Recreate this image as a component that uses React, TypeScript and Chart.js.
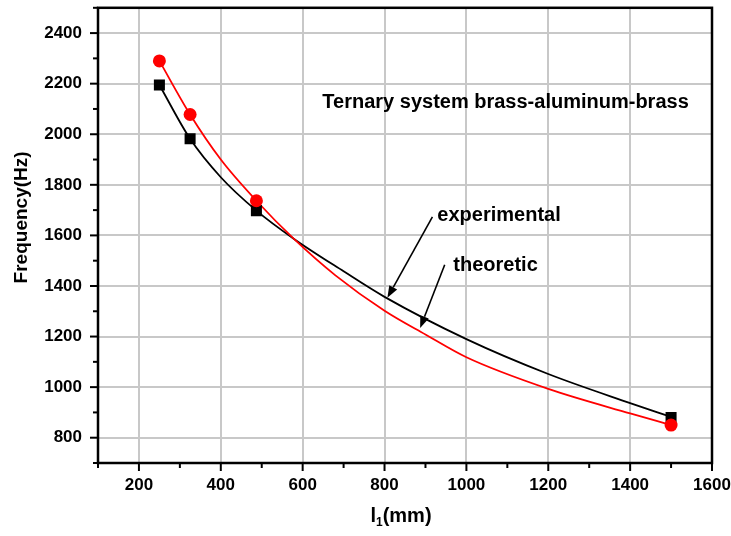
import React, { useEffect, useRef } from 'react';
import { Chart, registerables } from 'chart.js';

Chart.register(...registerables);

// measured points
const expX = [250, 325, 487, 1500];
const expY = [2195, 1982, 1698, 880];
const theoX = [250, 325, 487, 1500];
const theoY = [2290, 2078, 1737, 850];

// fitted curves
const expCurveX = [250, 325, 400, 487, 578, 700, 800, 1000, 1200, 1400, 1500];
const expCurveY = [2195, 1982, 1830, 1698, 1587, 1458, 1357, 1190, 1052, 937, 882];
const theoCurveX = [250, 325, 400, 487, 578, 680, 800, 900, 1000, 1200, 1400, 1500];
const theoCurveY = [2290, 2078, 1900, 1737, 1587, 1442, 1302, 1208, 1118, 993, 896, 850];

// tick labels
const xTickLabels = [200, 400, 600, 800, 1000, 1200, 1400, 1600];
const yTickLabels = [800, 1000, 1200, 1400, 1600, 1800, 2000, 2200, 2400];

const titleText = 'Ternary system brass-aluminum-brass';
const expLabel = 'experimental';
const theoLabel = 'theoretic';
const yTitle = 'Frequency(Hz)';

const FONT = "'Liberation Sans', Arial, Helvetica, sans-serif";

const pts = (xs: number[], ys: number[]) => xs.map((x, i) => ({ x, y: ys[i] }));

function drawArrow(ctx: CanvasRenderingContext2D, x1: number, y1: number, x2: number, y2: number) {
  const ang = Math.atan2(y2 - y1, x2 - x1);
  const len = 12;
  const hw = 4.5;
  const bx = x2 - len * Math.cos(ang);
  const by = y2 - len * Math.sin(ang);
  ctx.beginPath();
  ctx.moveTo(x1, y1);
  ctx.lineTo(bx, by);
  ctx.stroke();
  ctx.beginPath();
  ctx.moveTo(x2, y2);
  ctx.lineTo(bx + hw * Math.sin(ang), by - hw * Math.cos(ang));
  ctx.lineTo(bx - hw * Math.sin(ang), by + hw * Math.cos(ang));
  ctx.closePath();
  ctx.fill();
}

const decorPlugin = {
  id: 'decor',
  afterDatasetsDraw(chart: any) {
    const { ctx, scales } = chart;
    const xs = scales.x;
    const ys = scales.y;
    const px = (v: number) => xs.getPixelForValue(v);
    const py = (v: number) => ys.getPixelForValue(v);
    ctx.save();
    ctx.fillStyle = '#000';
    ctx.strokeStyle = '#000';
    ctx.textAlign = 'left';
    ctx.textBaseline = 'alphabetic';
    ctx.font = `bold 20px ${FONT}`;
    ctx.fillText(titleText, px(648), py(2105));
    ctx.fillText(expLabel, px(929), py(1655));
    ctx.fillText(theoLabel, px(968), py(1460));
    ctx.lineWidth = 1.6;
    drawArrow(ctx, px(917), py(1673), px(807), py(1353));
    drawArrow(ctx, px(947), py(1484), px(887), py(1234));
    ctx.restore();
  },
  afterDraw(chart: any) {
    const { ctx, chartArea: a, scales } = chart;
    const xs = scales.x;
    const ys = scales.y;
    ctx.save();
    ctx.strokeStyle = '#000';
    ctx.lineWidth = 2;
    xs.ticks.forEach((t: any) => {
      const p = xs.getPixelForValue(t.value);
      const len = xTickLabels.includes(t.value) ? 8 : 5;
      ctx.beginPath();
      ctx.moveTo(p, a.bottom);
      ctx.lineTo(p, a.bottom + len);
      ctx.stroke();
    });
    ys.ticks.forEach((t: any) => {
      const p = ys.getPixelForValue(t.value);
      const len = yTickLabels.includes(t.value) ? 8 : 5;
      ctx.beginPath();
      ctx.moveTo(a.left, p);
      ctx.lineTo(a.left - len, p);
      ctx.stroke();
    });
    ctx.lineWidth = 2.5;
    ctx.strokeRect(a.left, a.top, a.right - a.left, a.bottom - a.top);

    // axis titles
    ctx.fillStyle = '#000';
    ctx.textBaseline = 'alphabetic';
    const big = `bold 20px ${FONT}`;
    const small = `bold 12px ${FONT}`;
    ctx.font = big;
    const wl = ctx.measureText('l').width;
    const wr = ctx.measureText('(mm)').width;
    ctx.font = small;
    const ws = ctx.measureText('1').width;
    const total = wl + ws + wr;
    const cx = (a.left + a.right) / 2 - 4;
    const base = a.bottom + 59;
    let x0 = cx - total / 2;
    ctx.textAlign = 'left';
    ctx.font = big;
    ctx.fillText('l', x0, base);
    x0 += wl;
    ctx.font = small;
    ctx.fillText('1', x0, base + 4);
    x0 += ws;
    ctx.font = big;
    ctx.fillText('(mm)', x0, base);

    ctx.save();
    ctx.translate(27, (a.top + a.bottom) / 2 - 18);
    ctx.rotate(-Math.PI / 2);
    ctx.textAlign = 'center';
    ctx.font = `bold 19px ${FONT}`;
    ctx.fillText(yTitle, 0, 0);
    ctx.restore();

    ctx.restore();
  },
};

export default function App() {
  const ref = useRef<HTMLCanvasElement | null>(null);
  useEffect(() => {
    if (!ref.current) return;
    const chart = new Chart(ref.current, {
      type: 'line',
      data: {
        datasets: [
          {
            label: 'theoretic points',
            data: pts(theoX, theoY),
            showLine: false,
            pointStyle: 'circle',
            pointRadius: 6.5,
            pointBorderWidth: 0,
            pointBackgroundColor: '#ff0000',
            borderColor: '#ff0000',
          },
          {
            label: 'experimental points',
            data: pts(expX, expY),
            showLine: false,
            pointStyle: 'rect',
            pointRadius: 7.8,
            pointBorderWidth: 0,
            pointBackgroundColor: '#000000',
            borderColor: '#000000',
          },
          {
            label: 'theoretic',
            data: pts(theoCurveX, theoCurveY),
            borderColor: '#ff0000',
            borderWidth: 1.8,
            pointRadius: 0,
            fill: false,
            cubicInterpolationMode: 'monotone',
          },
          {
            label: 'experimental',
            data: pts(expCurveX, expCurveY),
            borderColor: '#000000',
            borderWidth: 1.8,
            pointRadius: 0,
            fill: false,
            cubicInterpolationMode: 'monotone',
          },
        ],
      },
      options: {
        animation: false,
        responsive: false,
        maintainAspectRatio: false,
        devicePixelRatio: 1,
        layout: { padding: { left: 0, right: 19, top: 6, bottom: 0 } },
        plugins: { legend: { display: false }, tooltip: { enabled: false } },
        scales: {
          x: {
            type: 'linear',
            min: 100,
            max: 1600,
            afterFit: (s: any) => { s.height = 73; s.paddingLeft = 0; s.paddingRight = 0; },
            ticks: {
              stepSize: 100,
              autoSkip: false,
              maxRotation: 0,
              padding: 12,
              color: '#000',
              font: { family: FONT, size: 17, weight: 'bold' },
              callback: (v: any) => (xTickLabels.includes(Number(v)) ? String(v) : ''),
            },
            grid: {
              drawTicks: false,
              lineWidth: 2,
              color: (c: any) => (c.tick && xTickLabels.includes(c.tick.value) ? '#c8c8c8' : 'rgba(0,0,0,0)'),
            },
            border: { display: false },
          },
          y: {
            type: 'linear',
            min: 700,
            max: 2500,
            afterFit: (s: any) => { s.width = 98; s.paddingTop = 0; s.paddingBottom = 0; },
            ticks: {
              stepSize: 100,
              autoSkip: false,
              padding: 16,
              color: '#000',
              font: { family: FONT, size: 17, weight: 'bold' },
              callback: (v: any) => (yTickLabels.includes(Number(v)) ? String(v) : ''),
            },
            grid: {
              drawTicks: false,
              lineWidth: 2,
              color: (c: any) => (c.tick && yTickLabels.includes(c.tick.value) ? '#c8c8c8' : 'rgba(0,0,0,0)'),
            },
            border: { display: false },
          },
        },
      },
      plugins: [decorPlugin],
    } as any);
    return () => chart.destroy();
  }, []);
  return (
    <div style={{ position: 'fixed', left: 0, top: 0, width: 731, height: 536, background: '#fff' }}>
      <canvas ref={ref} width={731} height={536} style={{ display: 'block' }} />
    </div>
  );
}
